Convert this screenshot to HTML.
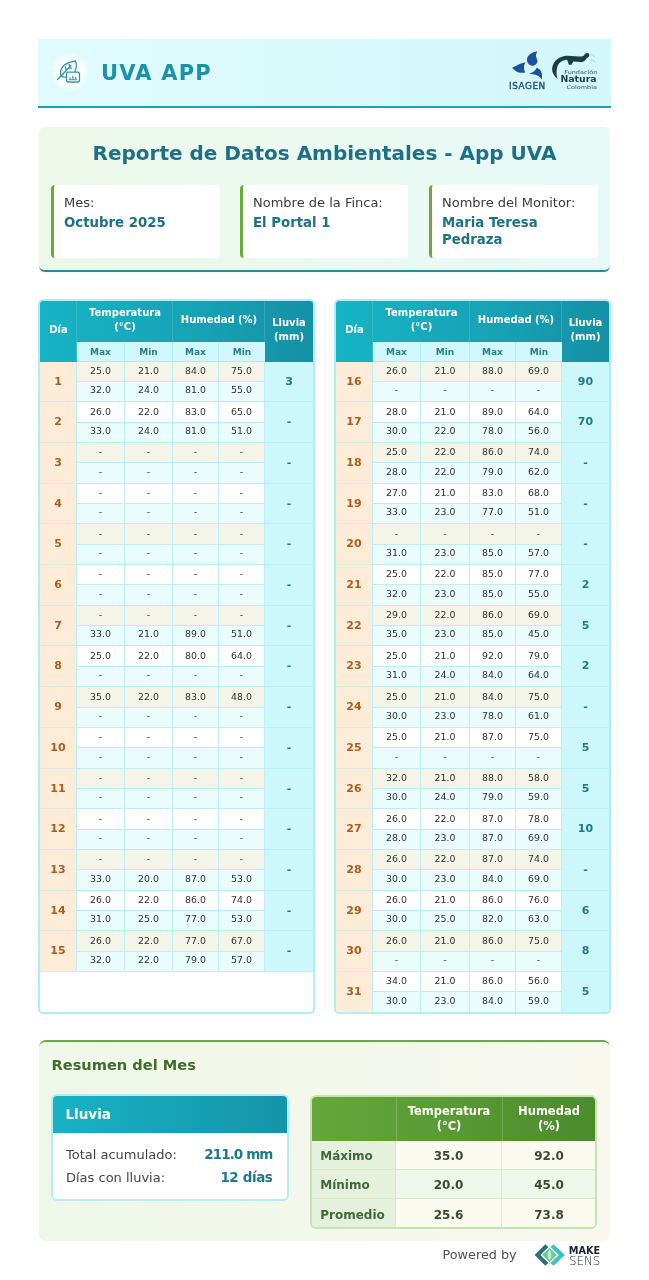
<!DOCTYPE html><html><head><meta charset="utf-8"><title>UVA APP</title><style>
*{margin:0;padding:0;box-sizing:border-box}
html,body{width:649px;height:1280px;background:#fff;overflow:hidden;font-family:'DejaVu Sans', 'Liberation Sans', sans-serif}
.a{position:absolute;display:flex;align-items:center;justify-content:center;text-align:center}
.tbl{position:absolute;border:2px solid #aeeef4;border-radius:5px;overflow:hidden;background:#fff}
.h{color:#fff;font-weight:bold;font-size:10px;line-height:13.8px;position:relative;top:-1.5px}
.sh{color:#2a7e8d;font-weight:bold;font-size:9px;position:relative;top:0.5px}
.n{color:#303030;font-size:9.4px;position:relative;top:-0.9px}
.nb{top:-1.8px}
.d{color:#ad5e1f;font-weight:bold;font-size:11px;position:relative;top:-0.5px}
.l{color:#1e7a8b;font-weight:bold;font-size:11px;position:relative;top:-0.5px}
#hdr{position:absolute;left:38px;top:39px;width:573px;height:69px;background:linear-gradient(90deg,#e0fbfd,#d3f7fa);border-bottom:2px solid #19a2b2}
#info{position:absolute;left:38.5px;top:127px;width:571.5px;height:145px;border-radius:6px;background:linear-gradient(90deg,#eef8ea,#e7faf8);border-bottom:2px solid #2a8a99;box-shadow:0 1px 3px rgba(0,0,0,0.05)}
#info h1{position:absolute;left:0;width:100%;top:140px;text-align:center;font-size:20px;font-weight:bold;color:#1e7b8d;line-height:24px}
.fld{position:absolute;top:185px;height:73px;background:#fff;border-left:3px solid #6aaa3c;border-radius:4px}
.fl{position:absolute;left:10px;top:9px;font-size:13px;color:#3c3c3c;line-height:17px}
.fv{position:absolute;left:10px;top:28.8px;font-size:13.3px;font-weight:bold;color:#1b7386;line-height:17px}
.gh{color:#fff;font-weight:bold;font-size:11.5px;line-height:15px;position:relative;top:0.5px}
.gl{color:#41673a;font-weight:bold;font-size:12px;position:relative;top:1px}
.gv{color:#3a4a30;font-weight:bold;font-size:12px;position:relative;top:1px}
#sum{position:absolute;left:39px;top:1040px;width:571px;height:201px;border-radius:7px;background:linear-gradient(90deg,#eff7ea,#f8f8ef);border-top:2px solid #6aa842}
</style></head><body>
<div id="hdr"></div>
<div style="position:absolute;left:50px;top:52px;width:40px;height:40px;border-radius:50%;background:radial-gradient(circle closest-side,rgba(255,255,255,0.97) 50%,rgba(255,255,255,0.6) 75%,rgba(255,255,255,0) 100%)"></div>
<div style="position:absolute;left:101px;top:60px;font-size:21px;font-weight:bold;letter-spacing:1.2px;color:#1a93a5;line-height:26px">UVA APP</div>
<div id="info"></div>
<div style="position:absolute;left:39px;width:571px;top:141px;text-align:center;font-size:20px;font-weight:bold;color:#1c7188;line-height:24px">Reporte de Datos Ambientales - App UVA</div>
<div class="fld" style="left:51px;width:169px"><div class="fl">Mes:</div><div class="fv">Octubre 2025</div></div>
<div class="fld" style="left:240px;width:168px"><div class="fl">Nombre de la Finca:</div><div class="fv">El Portal 1</div></div>
<div class="fld" style="left:429px;width:169px"><div class="fl">Nombre del Monitor:</div><div class="fv">Maria Teresa<br>Pedraza</div></div>
<div class="tbl" style="left:38px;top:299px;width:277px;height:715px">
<div class="a" style="left:0px;top:0px;width:273px;height:61px;background:linear-gradient(90deg,#17b4c5 0%,#16a3b6 55%,#1590a4 100%);"></div>
<div class="a" style="left:36px;top:0px;width:1px;height:61px;background:rgba(255,255,255,0.13);"></div>
<div class="a" style="left:132px;top:0px;width:1px;height:61px;background:rgba(255,255,255,0.13);"></div>
<div class="a" style="left:224px;top:0px;width:1px;height:61px;background:rgba(255,255,255,0.13);"></div>
<div class="a" style="left:0px;top:0px;width:37px;height:61px;"><span class="h">Día</span></div>
<div class="a" style="left:37px;top:0px;width:96px;height:41px;"><span class="h">Temperatura<br>(°C)</span></div>
<div class="a" style="left:133px;top:0px;width:92px;height:41px;"><span class="h">Humedad (%)</span></div>
<div class="a" style="left:225px;top:0px;width:48px;height:61px;"><span class="h">Lluvia<br>(mm)</span></div>
<div class="a" style="left:37px;top:41px;width:48px;height:20px;background:#cff9fc;border-bottom:1px solid #b2e9ee;border-right:1px solid #b4ecf2;"><span class="sh">Max</span></div>
<div class="a" style="left:85px;top:41px;width:48px;height:20px;background:#cff9fc;border-bottom:1px solid #b2e9ee;border-right:1px solid #b4ecf2;"><span class="sh">Min</span></div>
<div class="a" style="left:133px;top:41px;width:46px;height:20px;background:#cff9fc;border-bottom:1px solid #b2e9ee;border-right:1px solid #b4ecf2;"><span class="sh">Max</span></div>
<div class="a" style="left:179px;top:41px;width:46px;height:20px;background:#cff9fc;border-bottom:1px solid #b2e9ee;"><span class="sh">Min</span></div>
<div class="a" style="left:0px;top:61px;width:37px;height:40px;background:#fdecd7;border-bottom:1px solid #dcebe2;border-right:1px solid #bdeef3;"><span class="d">1</span></div>
<div class="a" style="left:37px;top:61px;width:48px;height:20px;background:#f4f4e8;border-bottom:1px solid #bdeef3;border-right:1px solid #bdeef3;"><span class="n">25.0</span></div>
<div class="a" style="left:37px;top:81px;width:48px;height:20px;background:#eafcfc;border-bottom:1px solid #bdeef3;border-right:1px solid #bdeef3;"><span class="n nb">32.0</span></div>
<div class="a" style="left:85px;top:61px;width:48px;height:20px;background:#f4f4e8;border-bottom:1px solid #bdeef3;border-right:1px solid #bdeef3;"><span class="n">21.0</span></div>
<div class="a" style="left:85px;top:81px;width:48px;height:20px;background:#eafcfc;border-bottom:1px solid #bdeef3;border-right:1px solid #bdeef3;"><span class="n nb">24.0</span></div>
<div class="a" style="left:133px;top:61px;width:46px;height:20px;background:#f4f4e8;border-bottom:1px solid #bdeef3;border-right:1px solid #bdeef3;"><span class="n">84.0</span></div>
<div class="a" style="left:133px;top:81px;width:46px;height:20px;background:#eafcfc;border-bottom:1px solid #bdeef3;border-right:1px solid #bdeef3;"><span class="n nb">81.0</span></div>
<div class="a" style="left:179px;top:61px;width:46px;height:20px;background:#f4f4e8;border-bottom:1px solid #bdeef3;border-right:1px solid #bdeef3;"><span class="n">75.0</span></div>
<div class="a" style="left:179px;top:81px;width:46px;height:20px;background:#eafcfc;border-bottom:1px solid #bdeef3;border-right:1px solid #bdeef3;"><span class="n nb">55.0</span></div>
<div class="a" style="left:225px;top:61px;width:48px;height:40px;background:#cdf8fb;border-bottom:1px solid #bdeef3;"><span class="l">3</span></div>
<div class="a" style="left:0px;top:101px;width:37px;height:41px;background:#fdecd7;border-bottom:1px solid #dcebe2;border-right:1px solid #bdeef3;"><span class="d">2</span></div>
<div class="a" style="left:37px;top:101px;width:48px;height:21px;background:#ffffff;border-bottom:1px solid #bdeef3;border-right:1px solid #bdeef3;"><span class="n">26.0</span></div>
<div class="a" style="left:37px;top:122px;width:48px;height:20px;background:#eafcfc;border-bottom:1px solid #bdeef3;border-right:1px solid #bdeef3;"><span class="n nb">33.0</span></div>
<div class="a" style="left:85px;top:101px;width:48px;height:21px;background:#ffffff;border-bottom:1px solid #bdeef3;border-right:1px solid #bdeef3;"><span class="n">22.0</span></div>
<div class="a" style="left:85px;top:122px;width:48px;height:20px;background:#eafcfc;border-bottom:1px solid #bdeef3;border-right:1px solid #bdeef3;"><span class="n nb">24.0</span></div>
<div class="a" style="left:133px;top:101px;width:46px;height:21px;background:#ffffff;border-bottom:1px solid #bdeef3;border-right:1px solid #bdeef3;"><span class="n">83.0</span></div>
<div class="a" style="left:133px;top:122px;width:46px;height:20px;background:#eafcfc;border-bottom:1px solid #bdeef3;border-right:1px solid #bdeef3;"><span class="n nb">81.0</span></div>
<div class="a" style="left:179px;top:101px;width:46px;height:21px;background:#ffffff;border-bottom:1px solid #bdeef3;border-right:1px solid #bdeef3;"><span class="n">65.0</span></div>
<div class="a" style="left:179px;top:122px;width:46px;height:20px;background:#eafcfc;border-bottom:1px solid #bdeef3;border-right:1px solid #bdeef3;"><span class="n nb">51.0</span></div>
<div class="a" style="left:225px;top:101px;width:48px;height:41px;background:#cdf8fb;border-bottom:1px solid #bdeef3;"><span class="l">-</span></div>
<div class="a" style="left:0px;top:142px;width:37px;height:41px;background:#fdecd7;border-bottom:1px solid #dcebe2;border-right:1px solid #bdeef3;"><span class="d">3</span></div>
<div class="a" style="left:37px;top:142px;width:48px;height:20px;background:#f4f4e8;border-bottom:1px solid #bdeef3;border-right:1px solid #bdeef3;"><span class="n">-</span></div>
<div class="a" style="left:37px;top:162px;width:48px;height:21px;background:#eafcfc;border-bottom:1px solid #bdeef3;border-right:1px solid #bdeef3;"><span class="n nb">-</span></div>
<div class="a" style="left:85px;top:142px;width:48px;height:20px;background:#f4f4e8;border-bottom:1px solid #bdeef3;border-right:1px solid #bdeef3;"><span class="n">-</span></div>
<div class="a" style="left:85px;top:162px;width:48px;height:21px;background:#eafcfc;border-bottom:1px solid #bdeef3;border-right:1px solid #bdeef3;"><span class="n nb">-</span></div>
<div class="a" style="left:133px;top:142px;width:46px;height:20px;background:#f4f4e8;border-bottom:1px solid #bdeef3;border-right:1px solid #bdeef3;"><span class="n">-</span></div>
<div class="a" style="left:133px;top:162px;width:46px;height:21px;background:#eafcfc;border-bottom:1px solid #bdeef3;border-right:1px solid #bdeef3;"><span class="n nb">-</span></div>
<div class="a" style="left:179px;top:142px;width:46px;height:20px;background:#f4f4e8;border-bottom:1px solid #bdeef3;border-right:1px solid #bdeef3;"><span class="n">-</span></div>
<div class="a" style="left:179px;top:162px;width:46px;height:21px;background:#eafcfc;border-bottom:1px solid #bdeef3;border-right:1px solid #bdeef3;"><span class="n nb">-</span></div>
<div class="a" style="left:225px;top:142px;width:48px;height:41px;background:#cdf8fb;border-bottom:1px solid #bdeef3;"><span class="l">-</span></div>
<div class="a" style="left:0px;top:183px;width:37px;height:40px;background:#fdecd7;border-bottom:1px solid #dcebe2;border-right:1px solid #bdeef3;"><span class="d">4</span></div>
<div class="a" style="left:37px;top:183px;width:48px;height:20px;background:#ffffff;border-bottom:1px solid #bdeef3;border-right:1px solid #bdeef3;"><span class="n">-</span></div>
<div class="a" style="left:37px;top:203px;width:48px;height:20px;background:#eafcfc;border-bottom:1px solid #bdeef3;border-right:1px solid #bdeef3;"><span class="n nb">-</span></div>
<div class="a" style="left:85px;top:183px;width:48px;height:20px;background:#ffffff;border-bottom:1px solid #bdeef3;border-right:1px solid #bdeef3;"><span class="n">-</span></div>
<div class="a" style="left:85px;top:203px;width:48px;height:20px;background:#eafcfc;border-bottom:1px solid #bdeef3;border-right:1px solid #bdeef3;"><span class="n nb">-</span></div>
<div class="a" style="left:133px;top:183px;width:46px;height:20px;background:#ffffff;border-bottom:1px solid #bdeef3;border-right:1px solid #bdeef3;"><span class="n">-</span></div>
<div class="a" style="left:133px;top:203px;width:46px;height:20px;background:#eafcfc;border-bottom:1px solid #bdeef3;border-right:1px solid #bdeef3;"><span class="n nb">-</span></div>
<div class="a" style="left:179px;top:183px;width:46px;height:20px;background:#ffffff;border-bottom:1px solid #bdeef3;border-right:1px solid #bdeef3;"><span class="n">-</span></div>
<div class="a" style="left:179px;top:203px;width:46px;height:20px;background:#eafcfc;border-bottom:1px solid #bdeef3;border-right:1px solid #bdeef3;"><span class="n nb">-</span></div>
<div class="a" style="left:225px;top:183px;width:48px;height:40px;background:#cdf8fb;border-bottom:1px solid #bdeef3;"><span class="l">-</span></div>
<div class="a" style="left:0px;top:223px;width:37px;height:41px;background:#fdecd7;border-bottom:1px solid #dcebe2;border-right:1px solid #bdeef3;"><span class="d">5</span></div>
<div class="a" style="left:37px;top:223px;width:48px;height:21px;background:#f4f4e8;border-bottom:1px solid #bdeef3;border-right:1px solid #bdeef3;"><span class="n">-</span></div>
<div class="a" style="left:37px;top:244px;width:48px;height:20px;background:#eafcfc;border-bottom:1px solid #bdeef3;border-right:1px solid #bdeef3;"><span class="n nb">-</span></div>
<div class="a" style="left:85px;top:223px;width:48px;height:21px;background:#f4f4e8;border-bottom:1px solid #bdeef3;border-right:1px solid #bdeef3;"><span class="n">-</span></div>
<div class="a" style="left:85px;top:244px;width:48px;height:20px;background:#eafcfc;border-bottom:1px solid #bdeef3;border-right:1px solid #bdeef3;"><span class="n nb">-</span></div>
<div class="a" style="left:133px;top:223px;width:46px;height:21px;background:#f4f4e8;border-bottom:1px solid #bdeef3;border-right:1px solid #bdeef3;"><span class="n">-</span></div>
<div class="a" style="left:133px;top:244px;width:46px;height:20px;background:#eafcfc;border-bottom:1px solid #bdeef3;border-right:1px solid #bdeef3;"><span class="n nb">-</span></div>
<div class="a" style="left:179px;top:223px;width:46px;height:21px;background:#f4f4e8;border-bottom:1px solid #bdeef3;border-right:1px solid #bdeef3;"><span class="n">-</span></div>
<div class="a" style="left:179px;top:244px;width:46px;height:20px;background:#eafcfc;border-bottom:1px solid #bdeef3;border-right:1px solid #bdeef3;"><span class="n nb">-</span></div>
<div class="a" style="left:225px;top:223px;width:48px;height:41px;background:#cdf8fb;border-bottom:1px solid #bdeef3;"><span class="l">-</span></div>
<div class="a" style="left:0px;top:264px;width:37px;height:41px;background:#fdecd7;border-bottom:1px solid #dcebe2;border-right:1px solid #bdeef3;"><span class="d">6</span></div>
<div class="a" style="left:37px;top:264px;width:48px;height:20px;background:#ffffff;border-bottom:1px solid #bdeef3;border-right:1px solid #bdeef3;"><span class="n">-</span></div>
<div class="a" style="left:37px;top:284px;width:48px;height:21px;background:#eafcfc;border-bottom:1px solid #bdeef3;border-right:1px solid #bdeef3;"><span class="n nb">-</span></div>
<div class="a" style="left:85px;top:264px;width:48px;height:20px;background:#ffffff;border-bottom:1px solid #bdeef3;border-right:1px solid #bdeef3;"><span class="n">-</span></div>
<div class="a" style="left:85px;top:284px;width:48px;height:21px;background:#eafcfc;border-bottom:1px solid #bdeef3;border-right:1px solid #bdeef3;"><span class="n nb">-</span></div>
<div class="a" style="left:133px;top:264px;width:46px;height:20px;background:#ffffff;border-bottom:1px solid #bdeef3;border-right:1px solid #bdeef3;"><span class="n">-</span></div>
<div class="a" style="left:133px;top:284px;width:46px;height:21px;background:#eafcfc;border-bottom:1px solid #bdeef3;border-right:1px solid #bdeef3;"><span class="n nb">-</span></div>
<div class="a" style="left:179px;top:264px;width:46px;height:20px;background:#ffffff;border-bottom:1px solid #bdeef3;border-right:1px solid #bdeef3;"><span class="n">-</span></div>
<div class="a" style="left:179px;top:284px;width:46px;height:21px;background:#eafcfc;border-bottom:1px solid #bdeef3;border-right:1px solid #bdeef3;"><span class="n nb">-</span></div>
<div class="a" style="left:225px;top:264px;width:48px;height:41px;background:#cdf8fb;border-bottom:1px solid #bdeef3;"><span class="l">-</span></div>
<div class="a" style="left:0px;top:305px;width:37px;height:40px;background:#fdecd7;border-bottom:1px solid #dcebe2;border-right:1px solid #bdeef3;"><span class="d">7</span></div>
<div class="a" style="left:37px;top:305px;width:48px;height:20px;background:#f4f4e8;border-bottom:1px solid #bdeef3;border-right:1px solid #bdeef3;"><span class="n">-</span></div>
<div class="a" style="left:37px;top:325px;width:48px;height:20px;background:#eafcfc;border-bottom:1px solid #bdeef3;border-right:1px solid #bdeef3;"><span class="n nb">33.0</span></div>
<div class="a" style="left:85px;top:305px;width:48px;height:20px;background:#f4f4e8;border-bottom:1px solid #bdeef3;border-right:1px solid #bdeef3;"><span class="n">-</span></div>
<div class="a" style="left:85px;top:325px;width:48px;height:20px;background:#eafcfc;border-bottom:1px solid #bdeef3;border-right:1px solid #bdeef3;"><span class="n nb">21.0</span></div>
<div class="a" style="left:133px;top:305px;width:46px;height:20px;background:#f4f4e8;border-bottom:1px solid #bdeef3;border-right:1px solid #bdeef3;"><span class="n">-</span></div>
<div class="a" style="left:133px;top:325px;width:46px;height:20px;background:#eafcfc;border-bottom:1px solid #bdeef3;border-right:1px solid #bdeef3;"><span class="n nb">89.0</span></div>
<div class="a" style="left:179px;top:305px;width:46px;height:20px;background:#f4f4e8;border-bottom:1px solid #bdeef3;border-right:1px solid #bdeef3;"><span class="n">-</span></div>
<div class="a" style="left:179px;top:325px;width:46px;height:20px;background:#eafcfc;border-bottom:1px solid #bdeef3;border-right:1px solid #bdeef3;"><span class="n nb">51.0</span></div>
<div class="a" style="left:225px;top:305px;width:48px;height:40px;background:#cdf8fb;border-bottom:1px solid #bdeef3;"><span class="l">-</span></div>
<div class="a" style="left:0px;top:345px;width:37px;height:41px;background:#fdecd7;border-bottom:1px solid #dcebe2;border-right:1px solid #bdeef3;"><span class="d">8</span></div>
<div class="a" style="left:37px;top:345px;width:48px;height:21px;background:#ffffff;border-bottom:1px solid #bdeef3;border-right:1px solid #bdeef3;"><span class="n">25.0</span></div>
<div class="a" style="left:37px;top:366px;width:48px;height:20px;background:#eafcfc;border-bottom:1px solid #bdeef3;border-right:1px solid #bdeef3;"><span class="n nb">-</span></div>
<div class="a" style="left:85px;top:345px;width:48px;height:21px;background:#ffffff;border-bottom:1px solid #bdeef3;border-right:1px solid #bdeef3;"><span class="n">22.0</span></div>
<div class="a" style="left:85px;top:366px;width:48px;height:20px;background:#eafcfc;border-bottom:1px solid #bdeef3;border-right:1px solid #bdeef3;"><span class="n nb">-</span></div>
<div class="a" style="left:133px;top:345px;width:46px;height:21px;background:#ffffff;border-bottom:1px solid #bdeef3;border-right:1px solid #bdeef3;"><span class="n">80.0</span></div>
<div class="a" style="left:133px;top:366px;width:46px;height:20px;background:#eafcfc;border-bottom:1px solid #bdeef3;border-right:1px solid #bdeef3;"><span class="n nb">-</span></div>
<div class="a" style="left:179px;top:345px;width:46px;height:21px;background:#ffffff;border-bottom:1px solid #bdeef3;border-right:1px solid #bdeef3;"><span class="n">64.0</span></div>
<div class="a" style="left:179px;top:366px;width:46px;height:20px;background:#eafcfc;border-bottom:1px solid #bdeef3;border-right:1px solid #bdeef3;"><span class="n nb">-</span></div>
<div class="a" style="left:225px;top:345px;width:48px;height:41px;background:#cdf8fb;border-bottom:1px solid #bdeef3;"><span class="l">-</span></div>
<div class="a" style="left:0px;top:386px;width:37px;height:41px;background:#fdecd7;border-bottom:1px solid #dcebe2;border-right:1px solid #bdeef3;"><span class="d">9</span></div>
<div class="a" style="left:37px;top:386px;width:48px;height:21px;background:#f4f4e8;border-bottom:1px solid #bdeef3;border-right:1px solid #bdeef3;"><span class="n">35.0</span></div>
<div class="a" style="left:37px;top:407px;width:48px;height:20px;background:#eafcfc;border-bottom:1px solid #bdeef3;border-right:1px solid #bdeef3;"><span class="n nb">-</span></div>
<div class="a" style="left:85px;top:386px;width:48px;height:21px;background:#f4f4e8;border-bottom:1px solid #bdeef3;border-right:1px solid #bdeef3;"><span class="n">22.0</span></div>
<div class="a" style="left:85px;top:407px;width:48px;height:20px;background:#eafcfc;border-bottom:1px solid #bdeef3;border-right:1px solid #bdeef3;"><span class="n nb">-</span></div>
<div class="a" style="left:133px;top:386px;width:46px;height:21px;background:#f4f4e8;border-bottom:1px solid #bdeef3;border-right:1px solid #bdeef3;"><span class="n">83.0</span></div>
<div class="a" style="left:133px;top:407px;width:46px;height:20px;background:#eafcfc;border-bottom:1px solid #bdeef3;border-right:1px solid #bdeef3;"><span class="n nb">-</span></div>
<div class="a" style="left:179px;top:386px;width:46px;height:21px;background:#f4f4e8;border-bottom:1px solid #bdeef3;border-right:1px solid #bdeef3;"><span class="n">48.0</span></div>
<div class="a" style="left:179px;top:407px;width:46px;height:20px;background:#eafcfc;border-bottom:1px solid #bdeef3;border-right:1px solid #bdeef3;"><span class="n nb">-</span></div>
<div class="a" style="left:225px;top:386px;width:48px;height:41px;background:#cdf8fb;border-bottom:1px solid #bdeef3;"><span class="l">-</span></div>
<div class="a" style="left:0px;top:427px;width:37px;height:41px;background:#fdecd7;border-bottom:1px solid #dcebe2;border-right:1px solid #bdeef3;"><span class="d">10</span></div>
<div class="a" style="left:37px;top:427px;width:48px;height:20px;background:#ffffff;border-bottom:1px solid #bdeef3;border-right:1px solid #bdeef3;"><span class="n">-</span></div>
<div class="a" style="left:37px;top:447px;width:48px;height:21px;background:#eafcfc;border-bottom:1px solid #bdeef3;border-right:1px solid #bdeef3;"><span class="n nb">-</span></div>
<div class="a" style="left:85px;top:427px;width:48px;height:20px;background:#ffffff;border-bottom:1px solid #bdeef3;border-right:1px solid #bdeef3;"><span class="n">-</span></div>
<div class="a" style="left:85px;top:447px;width:48px;height:21px;background:#eafcfc;border-bottom:1px solid #bdeef3;border-right:1px solid #bdeef3;"><span class="n nb">-</span></div>
<div class="a" style="left:133px;top:427px;width:46px;height:20px;background:#ffffff;border-bottom:1px solid #bdeef3;border-right:1px solid #bdeef3;"><span class="n">-</span></div>
<div class="a" style="left:133px;top:447px;width:46px;height:21px;background:#eafcfc;border-bottom:1px solid #bdeef3;border-right:1px solid #bdeef3;"><span class="n nb">-</span></div>
<div class="a" style="left:179px;top:427px;width:46px;height:20px;background:#ffffff;border-bottom:1px solid #bdeef3;border-right:1px solid #bdeef3;"><span class="n">-</span></div>
<div class="a" style="left:179px;top:447px;width:46px;height:21px;background:#eafcfc;border-bottom:1px solid #bdeef3;border-right:1px solid #bdeef3;"><span class="n nb">-</span></div>
<div class="a" style="left:225px;top:427px;width:48px;height:41px;background:#cdf8fb;border-bottom:1px solid #bdeef3;"><span class="l">-</span></div>
<div class="a" style="left:0px;top:468px;width:37px;height:40px;background:#fdecd7;border-bottom:1px solid #dcebe2;border-right:1px solid #bdeef3;"><span class="d">11</span></div>
<div class="a" style="left:37px;top:468px;width:48px;height:20px;background:#f4f4e8;border-bottom:1px solid #bdeef3;border-right:1px solid #bdeef3;"><span class="n">-</span></div>
<div class="a" style="left:37px;top:488px;width:48px;height:20px;background:#eafcfc;border-bottom:1px solid #bdeef3;border-right:1px solid #bdeef3;"><span class="n nb">-</span></div>
<div class="a" style="left:85px;top:468px;width:48px;height:20px;background:#f4f4e8;border-bottom:1px solid #bdeef3;border-right:1px solid #bdeef3;"><span class="n">-</span></div>
<div class="a" style="left:85px;top:488px;width:48px;height:20px;background:#eafcfc;border-bottom:1px solid #bdeef3;border-right:1px solid #bdeef3;"><span class="n nb">-</span></div>
<div class="a" style="left:133px;top:468px;width:46px;height:20px;background:#f4f4e8;border-bottom:1px solid #bdeef3;border-right:1px solid #bdeef3;"><span class="n">-</span></div>
<div class="a" style="left:133px;top:488px;width:46px;height:20px;background:#eafcfc;border-bottom:1px solid #bdeef3;border-right:1px solid #bdeef3;"><span class="n nb">-</span></div>
<div class="a" style="left:179px;top:468px;width:46px;height:20px;background:#f4f4e8;border-bottom:1px solid #bdeef3;border-right:1px solid #bdeef3;"><span class="n">-</span></div>
<div class="a" style="left:179px;top:488px;width:46px;height:20px;background:#eafcfc;border-bottom:1px solid #bdeef3;border-right:1px solid #bdeef3;"><span class="n nb">-</span></div>
<div class="a" style="left:225px;top:468px;width:48px;height:40px;background:#cdf8fb;border-bottom:1px solid #bdeef3;"><span class="l">-</span></div>
<div class="a" style="left:0px;top:508px;width:37px;height:41px;background:#fdecd7;border-bottom:1px solid #dcebe2;border-right:1px solid #bdeef3;"><span class="d">12</span></div>
<div class="a" style="left:37px;top:508px;width:48px;height:21px;background:#ffffff;border-bottom:1px solid #bdeef3;border-right:1px solid #bdeef3;"><span class="n">-</span></div>
<div class="a" style="left:37px;top:529px;width:48px;height:20px;background:#eafcfc;border-bottom:1px solid #bdeef3;border-right:1px solid #bdeef3;"><span class="n nb">-</span></div>
<div class="a" style="left:85px;top:508px;width:48px;height:21px;background:#ffffff;border-bottom:1px solid #bdeef3;border-right:1px solid #bdeef3;"><span class="n">-</span></div>
<div class="a" style="left:85px;top:529px;width:48px;height:20px;background:#eafcfc;border-bottom:1px solid #bdeef3;border-right:1px solid #bdeef3;"><span class="n nb">-</span></div>
<div class="a" style="left:133px;top:508px;width:46px;height:21px;background:#ffffff;border-bottom:1px solid #bdeef3;border-right:1px solid #bdeef3;"><span class="n">-</span></div>
<div class="a" style="left:133px;top:529px;width:46px;height:20px;background:#eafcfc;border-bottom:1px solid #bdeef3;border-right:1px solid #bdeef3;"><span class="n nb">-</span></div>
<div class="a" style="left:179px;top:508px;width:46px;height:21px;background:#ffffff;border-bottom:1px solid #bdeef3;border-right:1px solid #bdeef3;"><span class="n">-</span></div>
<div class="a" style="left:179px;top:529px;width:46px;height:20px;background:#eafcfc;border-bottom:1px solid #bdeef3;border-right:1px solid #bdeef3;"><span class="n nb">-</span></div>
<div class="a" style="left:225px;top:508px;width:48px;height:41px;background:#cdf8fb;border-bottom:1px solid #bdeef3;"><span class="l">-</span></div>
<div class="a" style="left:0px;top:549px;width:37px;height:41px;background:#fdecd7;border-bottom:1px solid #dcebe2;border-right:1px solid #bdeef3;"><span class="d">13</span></div>
<div class="a" style="left:37px;top:549px;width:48px;height:20px;background:#f4f4e8;border-bottom:1px solid #bdeef3;border-right:1px solid #bdeef3;"><span class="n">-</span></div>
<div class="a" style="left:37px;top:569px;width:48px;height:21px;background:#eafcfc;border-bottom:1px solid #bdeef3;border-right:1px solid #bdeef3;"><span class="n nb">33.0</span></div>
<div class="a" style="left:85px;top:549px;width:48px;height:20px;background:#f4f4e8;border-bottom:1px solid #bdeef3;border-right:1px solid #bdeef3;"><span class="n">-</span></div>
<div class="a" style="left:85px;top:569px;width:48px;height:21px;background:#eafcfc;border-bottom:1px solid #bdeef3;border-right:1px solid #bdeef3;"><span class="n nb">20.0</span></div>
<div class="a" style="left:133px;top:549px;width:46px;height:20px;background:#f4f4e8;border-bottom:1px solid #bdeef3;border-right:1px solid #bdeef3;"><span class="n">-</span></div>
<div class="a" style="left:133px;top:569px;width:46px;height:21px;background:#eafcfc;border-bottom:1px solid #bdeef3;border-right:1px solid #bdeef3;"><span class="n nb">87.0</span></div>
<div class="a" style="left:179px;top:549px;width:46px;height:20px;background:#f4f4e8;border-bottom:1px solid #bdeef3;border-right:1px solid #bdeef3;"><span class="n">-</span></div>
<div class="a" style="left:179px;top:569px;width:46px;height:21px;background:#eafcfc;border-bottom:1px solid #bdeef3;border-right:1px solid #bdeef3;"><span class="n nb">53.0</span></div>
<div class="a" style="left:225px;top:549px;width:48px;height:41px;background:#cdf8fb;border-bottom:1px solid #bdeef3;"><span class="l">-</span></div>
<div class="a" style="left:0px;top:590px;width:37px;height:40px;background:#fdecd7;border-bottom:1px solid #dcebe2;border-right:1px solid #bdeef3;"><span class="d">14</span></div>
<div class="a" style="left:37px;top:590px;width:48px;height:20px;background:#ffffff;border-bottom:1px solid #bdeef3;border-right:1px solid #bdeef3;"><span class="n">26.0</span></div>
<div class="a" style="left:37px;top:610px;width:48px;height:20px;background:#eafcfc;border-bottom:1px solid #bdeef3;border-right:1px solid #bdeef3;"><span class="n nb">31.0</span></div>
<div class="a" style="left:85px;top:590px;width:48px;height:20px;background:#ffffff;border-bottom:1px solid #bdeef3;border-right:1px solid #bdeef3;"><span class="n">22.0</span></div>
<div class="a" style="left:85px;top:610px;width:48px;height:20px;background:#eafcfc;border-bottom:1px solid #bdeef3;border-right:1px solid #bdeef3;"><span class="n nb">25.0</span></div>
<div class="a" style="left:133px;top:590px;width:46px;height:20px;background:#ffffff;border-bottom:1px solid #bdeef3;border-right:1px solid #bdeef3;"><span class="n">86.0</span></div>
<div class="a" style="left:133px;top:610px;width:46px;height:20px;background:#eafcfc;border-bottom:1px solid #bdeef3;border-right:1px solid #bdeef3;"><span class="n nb">77.0</span></div>
<div class="a" style="left:179px;top:590px;width:46px;height:20px;background:#ffffff;border-bottom:1px solid #bdeef3;border-right:1px solid #bdeef3;"><span class="n">74.0</span></div>
<div class="a" style="left:179px;top:610px;width:46px;height:20px;background:#eafcfc;border-bottom:1px solid #bdeef3;border-right:1px solid #bdeef3;"><span class="n nb">53.0</span></div>
<div class="a" style="left:225px;top:590px;width:48px;height:40px;background:#cdf8fb;border-bottom:1px solid #bdeef3;"><span class="l">-</span></div>
<div class="a" style="left:0px;top:630px;width:37px;height:41px;background:#fdecd7;border-bottom:1px solid #dcebe2;border-right:1px solid #bdeef3;"><span class="d">15</span></div>
<div class="a" style="left:37px;top:630px;width:48px;height:21px;background:#f4f4e8;border-bottom:1px solid #bdeef3;border-right:1px solid #bdeef3;"><span class="n">26.0</span></div>
<div class="a" style="left:37px;top:651px;width:48px;height:20px;background:#eafcfc;border-bottom:1px solid #bdeef3;border-right:1px solid #bdeef3;"><span class="n nb">32.0</span></div>
<div class="a" style="left:85px;top:630px;width:48px;height:21px;background:#f4f4e8;border-bottom:1px solid #bdeef3;border-right:1px solid #bdeef3;"><span class="n">22.0</span></div>
<div class="a" style="left:85px;top:651px;width:48px;height:20px;background:#eafcfc;border-bottom:1px solid #bdeef3;border-right:1px solid #bdeef3;"><span class="n nb">22.0</span></div>
<div class="a" style="left:133px;top:630px;width:46px;height:21px;background:#f4f4e8;border-bottom:1px solid #bdeef3;border-right:1px solid #bdeef3;"><span class="n">77.0</span></div>
<div class="a" style="left:133px;top:651px;width:46px;height:20px;background:#eafcfc;border-bottom:1px solid #bdeef3;border-right:1px solid #bdeef3;"><span class="n nb">79.0</span></div>
<div class="a" style="left:179px;top:630px;width:46px;height:21px;background:#f4f4e8;border-bottom:1px solid #bdeef3;border-right:1px solid #bdeef3;"><span class="n">67.0</span></div>
<div class="a" style="left:179px;top:651px;width:46px;height:20px;background:#eafcfc;border-bottom:1px solid #bdeef3;border-right:1px solid #bdeef3;"><span class="n nb">57.0</span></div>
<div class="a" style="left:225px;top:630px;width:48px;height:41px;background:#cdf8fb;border-bottom:1px solid #bdeef3;"><span class="l">-</span></div>
</div>
<div class="tbl" style="left:334px;top:299px;width:277px;height:715px">
<div class="a" style="left:0px;top:0px;width:273px;height:61px;background:linear-gradient(90deg,#17b4c5 0%,#16a3b6 55%,#1590a4 100%);"></div>
<div class="a" style="left:36px;top:0px;width:1px;height:61px;background:rgba(255,255,255,0.13);"></div>
<div class="a" style="left:133px;top:0px;width:1px;height:61px;background:rgba(255,255,255,0.13);"></div>
<div class="a" style="left:225px;top:0px;width:1px;height:61px;background:rgba(255,255,255,0.13);"></div>
<div class="a" style="left:0px;top:0px;width:37px;height:61px;"><span class="h">Día</span></div>
<div class="a" style="left:37px;top:0px;width:97px;height:41px;"><span class="h">Temperatura<br>(°C)</span></div>
<div class="a" style="left:134px;top:0px;width:92px;height:41px;"><span class="h">Humedad (%)</span></div>
<div class="a" style="left:226px;top:0px;width:47px;height:61px;"><span class="h">Lluvia<br>(mm)</span></div>
<div class="a" style="left:37px;top:41px;width:48px;height:20px;background:#cff9fc;border-bottom:1px solid #b2e9ee;border-right:1px solid #b4ecf2;"><span class="sh">Max</span></div>
<div class="a" style="left:85px;top:41px;width:49px;height:20px;background:#cff9fc;border-bottom:1px solid #b2e9ee;border-right:1px solid #b4ecf2;"><span class="sh">Min</span></div>
<div class="a" style="left:134px;top:41px;width:46px;height:20px;background:#cff9fc;border-bottom:1px solid #b2e9ee;border-right:1px solid #b4ecf2;"><span class="sh">Max</span></div>
<div class="a" style="left:180px;top:41px;width:46px;height:20px;background:#cff9fc;border-bottom:1px solid #b2e9ee;"><span class="sh">Min</span></div>
<div class="a" style="left:0px;top:61px;width:37px;height:40px;background:#fdecd7;border-bottom:1px solid #dcebe2;border-right:1px solid #bdeef3;"><span class="d">16</span></div>
<div class="a" style="left:37px;top:61px;width:48px;height:20px;background:#f4f4e8;border-bottom:1px solid #bdeef3;border-right:1px solid #bdeef3;"><span class="n">26.0</span></div>
<div class="a" style="left:37px;top:81px;width:48px;height:20px;background:#eafcfc;border-bottom:1px solid #bdeef3;border-right:1px solid #bdeef3;"><span class="n nb">-</span></div>
<div class="a" style="left:85px;top:61px;width:49px;height:20px;background:#f4f4e8;border-bottom:1px solid #bdeef3;border-right:1px solid #bdeef3;"><span class="n">21.0</span></div>
<div class="a" style="left:85px;top:81px;width:49px;height:20px;background:#eafcfc;border-bottom:1px solid #bdeef3;border-right:1px solid #bdeef3;"><span class="n nb">-</span></div>
<div class="a" style="left:134px;top:61px;width:46px;height:20px;background:#f4f4e8;border-bottom:1px solid #bdeef3;border-right:1px solid #bdeef3;"><span class="n">88.0</span></div>
<div class="a" style="left:134px;top:81px;width:46px;height:20px;background:#eafcfc;border-bottom:1px solid #bdeef3;border-right:1px solid #bdeef3;"><span class="n nb">-</span></div>
<div class="a" style="left:180px;top:61px;width:46px;height:20px;background:#f4f4e8;border-bottom:1px solid #bdeef3;border-right:1px solid #bdeef3;"><span class="n">69.0</span></div>
<div class="a" style="left:180px;top:81px;width:46px;height:20px;background:#eafcfc;border-bottom:1px solid #bdeef3;border-right:1px solid #bdeef3;"><span class="n nb">-</span></div>
<div class="a" style="left:226px;top:61px;width:47px;height:40px;background:#cdf8fb;border-bottom:1px solid #bdeef3;"><span class="l">90</span></div>
<div class="a" style="left:0px;top:101px;width:37px;height:41px;background:#fdecd7;border-bottom:1px solid #dcebe2;border-right:1px solid #bdeef3;"><span class="d">17</span></div>
<div class="a" style="left:37px;top:101px;width:48px;height:21px;background:#ffffff;border-bottom:1px solid #bdeef3;border-right:1px solid #bdeef3;"><span class="n">28.0</span></div>
<div class="a" style="left:37px;top:122px;width:48px;height:20px;background:#eafcfc;border-bottom:1px solid #bdeef3;border-right:1px solid #bdeef3;"><span class="n nb">30.0</span></div>
<div class="a" style="left:85px;top:101px;width:49px;height:21px;background:#ffffff;border-bottom:1px solid #bdeef3;border-right:1px solid #bdeef3;"><span class="n">21.0</span></div>
<div class="a" style="left:85px;top:122px;width:49px;height:20px;background:#eafcfc;border-bottom:1px solid #bdeef3;border-right:1px solid #bdeef3;"><span class="n nb">22.0</span></div>
<div class="a" style="left:134px;top:101px;width:46px;height:21px;background:#ffffff;border-bottom:1px solid #bdeef3;border-right:1px solid #bdeef3;"><span class="n">89.0</span></div>
<div class="a" style="left:134px;top:122px;width:46px;height:20px;background:#eafcfc;border-bottom:1px solid #bdeef3;border-right:1px solid #bdeef3;"><span class="n nb">78.0</span></div>
<div class="a" style="left:180px;top:101px;width:46px;height:21px;background:#ffffff;border-bottom:1px solid #bdeef3;border-right:1px solid #bdeef3;"><span class="n">64.0</span></div>
<div class="a" style="left:180px;top:122px;width:46px;height:20px;background:#eafcfc;border-bottom:1px solid #bdeef3;border-right:1px solid #bdeef3;"><span class="n nb">56.0</span></div>
<div class="a" style="left:226px;top:101px;width:47px;height:41px;background:#cdf8fb;border-bottom:1px solid #bdeef3;"><span class="l">70</span></div>
<div class="a" style="left:0px;top:142px;width:37px;height:41px;background:#fdecd7;border-bottom:1px solid #dcebe2;border-right:1px solid #bdeef3;"><span class="d">18</span></div>
<div class="a" style="left:37px;top:142px;width:48px;height:20px;background:#f4f4e8;border-bottom:1px solid #bdeef3;border-right:1px solid #bdeef3;"><span class="n">25.0</span></div>
<div class="a" style="left:37px;top:162px;width:48px;height:21px;background:#eafcfc;border-bottom:1px solid #bdeef3;border-right:1px solid #bdeef3;"><span class="n nb">28.0</span></div>
<div class="a" style="left:85px;top:142px;width:49px;height:20px;background:#f4f4e8;border-bottom:1px solid #bdeef3;border-right:1px solid #bdeef3;"><span class="n">22.0</span></div>
<div class="a" style="left:85px;top:162px;width:49px;height:21px;background:#eafcfc;border-bottom:1px solid #bdeef3;border-right:1px solid #bdeef3;"><span class="n nb">22.0</span></div>
<div class="a" style="left:134px;top:142px;width:46px;height:20px;background:#f4f4e8;border-bottom:1px solid #bdeef3;border-right:1px solid #bdeef3;"><span class="n">86.0</span></div>
<div class="a" style="left:134px;top:162px;width:46px;height:21px;background:#eafcfc;border-bottom:1px solid #bdeef3;border-right:1px solid #bdeef3;"><span class="n nb">79.0</span></div>
<div class="a" style="left:180px;top:142px;width:46px;height:20px;background:#f4f4e8;border-bottom:1px solid #bdeef3;border-right:1px solid #bdeef3;"><span class="n">74.0</span></div>
<div class="a" style="left:180px;top:162px;width:46px;height:21px;background:#eafcfc;border-bottom:1px solid #bdeef3;border-right:1px solid #bdeef3;"><span class="n nb">62.0</span></div>
<div class="a" style="left:226px;top:142px;width:47px;height:41px;background:#cdf8fb;border-bottom:1px solid #bdeef3;"><span class="l">-</span></div>
<div class="a" style="left:0px;top:183px;width:37px;height:40px;background:#fdecd7;border-bottom:1px solid #dcebe2;border-right:1px solid #bdeef3;"><span class="d">19</span></div>
<div class="a" style="left:37px;top:183px;width:48px;height:20px;background:#ffffff;border-bottom:1px solid #bdeef3;border-right:1px solid #bdeef3;"><span class="n">27.0</span></div>
<div class="a" style="left:37px;top:203px;width:48px;height:20px;background:#eafcfc;border-bottom:1px solid #bdeef3;border-right:1px solid #bdeef3;"><span class="n nb">33.0</span></div>
<div class="a" style="left:85px;top:183px;width:49px;height:20px;background:#ffffff;border-bottom:1px solid #bdeef3;border-right:1px solid #bdeef3;"><span class="n">21.0</span></div>
<div class="a" style="left:85px;top:203px;width:49px;height:20px;background:#eafcfc;border-bottom:1px solid #bdeef3;border-right:1px solid #bdeef3;"><span class="n nb">23.0</span></div>
<div class="a" style="left:134px;top:183px;width:46px;height:20px;background:#ffffff;border-bottom:1px solid #bdeef3;border-right:1px solid #bdeef3;"><span class="n">83.0</span></div>
<div class="a" style="left:134px;top:203px;width:46px;height:20px;background:#eafcfc;border-bottom:1px solid #bdeef3;border-right:1px solid #bdeef3;"><span class="n nb">77.0</span></div>
<div class="a" style="left:180px;top:183px;width:46px;height:20px;background:#ffffff;border-bottom:1px solid #bdeef3;border-right:1px solid #bdeef3;"><span class="n">68.0</span></div>
<div class="a" style="left:180px;top:203px;width:46px;height:20px;background:#eafcfc;border-bottom:1px solid #bdeef3;border-right:1px solid #bdeef3;"><span class="n nb">51.0</span></div>
<div class="a" style="left:226px;top:183px;width:47px;height:40px;background:#cdf8fb;border-bottom:1px solid #bdeef3;"><span class="l">-</span></div>
<div class="a" style="left:0px;top:223px;width:37px;height:41px;background:#fdecd7;border-bottom:1px solid #dcebe2;border-right:1px solid #bdeef3;"><span class="d">20</span></div>
<div class="a" style="left:37px;top:223px;width:48px;height:21px;background:#f4f4e8;border-bottom:1px solid #bdeef3;border-right:1px solid #bdeef3;"><span class="n">-</span></div>
<div class="a" style="left:37px;top:244px;width:48px;height:20px;background:#eafcfc;border-bottom:1px solid #bdeef3;border-right:1px solid #bdeef3;"><span class="n nb">31.0</span></div>
<div class="a" style="left:85px;top:223px;width:49px;height:21px;background:#f4f4e8;border-bottom:1px solid #bdeef3;border-right:1px solid #bdeef3;"><span class="n">-</span></div>
<div class="a" style="left:85px;top:244px;width:49px;height:20px;background:#eafcfc;border-bottom:1px solid #bdeef3;border-right:1px solid #bdeef3;"><span class="n nb">23.0</span></div>
<div class="a" style="left:134px;top:223px;width:46px;height:21px;background:#f4f4e8;border-bottom:1px solid #bdeef3;border-right:1px solid #bdeef3;"><span class="n">-</span></div>
<div class="a" style="left:134px;top:244px;width:46px;height:20px;background:#eafcfc;border-bottom:1px solid #bdeef3;border-right:1px solid #bdeef3;"><span class="n nb">85.0</span></div>
<div class="a" style="left:180px;top:223px;width:46px;height:21px;background:#f4f4e8;border-bottom:1px solid #bdeef3;border-right:1px solid #bdeef3;"><span class="n">-</span></div>
<div class="a" style="left:180px;top:244px;width:46px;height:20px;background:#eafcfc;border-bottom:1px solid #bdeef3;border-right:1px solid #bdeef3;"><span class="n nb">57.0</span></div>
<div class="a" style="left:226px;top:223px;width:47px;height:41px;background:#cdf8fb;border-bottom:1px solid #bdeef3;"><span class="l">-</span></div>
<div class="a" style="left:0px;top:264px;width:37px;height:41px;background:#fdecd7;border-bottom:1px solid #dcebe2;border-right:1px solid #bdeef3;"><span class="d">21</span></div>
<div class="a" style="left:37px;top:264px;width:48px;height:20px;background:#ffffff;border-bottom:1px solid #bdeef3;border-right:1px solid #bdeef3;"><span class="n">25.0</span></div>
<div class="a" style="left:37px;top:284px;width:48px;height:21px;background:#eafcfc;border-bottom:1px solid #bdeef3;border-right:1px solid #bdeef3;"><span class="n nb">32.0</span></div>
<div class="a" style="left:85px;top:264px;width:49px;height:20px;background:#ffffff;border-bottom:1px solid #bdeef3;border-right:1px solid #bdeef3;"><span class="n">22.0</span></div>
<div class="a" style="left:85px;top:284px;width:49px;height:21px;background:#eafcfc;border-bottom:1px solid #bdeef3;border-right:1px solid #bdeef3;"><span class="n nb">23.0</span></div>
<div class="a" style="left:134px;top:264px;width:46px;height:20px;background:#ffffff;border-bottom:1px solid #bdeef3;border-right:1px solid #bdeef3;"><span class="n">85.0</span></div>
<div class="a" style="left:134px;top:284px;width:46px;height:21px;background:#eafcfc;border-bottom:1px solid #bdeef3;border-right:1px solid #bdeef3;"><span class="n nb">85.0</span></div>
<div class="a" style="left:180px;top:264px;width:46px;height:20px;background:#ffffff;border-bottom:1px solid #bdeef3;border-right:1px solid #bdeef3;"><span class="n">77.0</span></div>
<div class="a" style="left:180px;top:284px;width:46px;height:21px;background:#eafcfc;border-bottom:1px solid #bdeef3;border-right:1px solid #bdeef3;"><span class="n nb">55.0</span></div>
<div class="a" style="left:226px;top:264px;width:47px;height:41px;background:#cdf8fb;border-bottom:1px solid #bdeef3;"><span class="l">2</span></div>
<div class="a" style="left:0px;top:305px;width:37px;height:40px;background:#fdecd7;border-bottom:1px solid #dcebe2;border-right:1px solid #bdeef3;"><span class="d">22</span></div>
<div class="a" style="left:37px;top:305px;width:48px;height:20px;background:#f4f4e8;border-bottom:1px solid #bdeef3;border-right:1px solid #bdeef3;"><span class="n">29.0</span></div>
<div class="a" style="left:37px;top:325px;width:48px;height:20px;background:#eafcfc;border-bottom:1px solid #bdeef3;border-right:1px solid #bdeef3;"><span class="n nb">35.0</span></div>
<div class="a" style="left:85px;top:305px;width:49px;height:20px;background:#f4f4e8;border-bottom:1px solid #bdeef3;border-right:1px solid #bdeef3;"><span class="n">22.0</span></div>
<div class="a" style="left:85px;top:325px;width:49px;height:20px;background:#eafcfc;border-bottom:1px solid #bdeef3;border-right:1px solid #bdeef3;"><span class="n nb">23.0</span></div>
<div class="a" style="left:134px;top:305px;width:46px;height:20px;background:#f4f4e8;border-bottom:1px solid #bdeef3;border-right:1px solid #bdeef3;"><span class="n">86.0</span></div>
<div class="a" style="left:134px;top:325px;width:46px;height:20px;background:#eafcfc;border-bottom:1px solid #bdeef3;border-right:1px solid #bdeef3;"><span class="n nb">85.0</span></div>
<div class="a" style="left:180px;top:305px;width:46px;height:20px;background:#f4f4e8;border-bottom:1px solid #bdeef3;border-right:1px solid #bdeef3;"><span class="n">69.0</span></div>
<div class="a" style="left:180px;top:325px;width:46px;height:20px;background:#eafcfc;border-bottom:1px solid #bdeef3;border-right:1px solid #bdeef3;"><span class="n nb">45.0</span></div>
<div class="a" style="left:226px;top:305px;width:47px;height:40px;background:#cdf8fb;border-bottom:1px solid #bdeef3;"><span class="l">5</span></div>
<div class="a" style="left:0px;top:345px;width:37px;height:41px;background:#fdecd7;border-bottom:1px solid #dcebe2;border-right:1px solid #bdeef3;"><span class="d">23</span></div>
<div class="a" style="left:37px;top:345px;width:48px;height:21px;background:#ffffff;border-bottom:1px solid #bdeef3;border-right:1px solid #bdeef3;"><span class="n">25.0</span></div>
<div class="a" style="left:37px;top:366px;width:48px;height:20px;background:#eafcfc;border-bottom:1px solid #bdeef3;border-right:1px solid #bdeef3;"><span class="n nb">31.0</span></div>
<div class="a" style="left:85px;top:345px;width:49px;height:21px;background:#ffffff;border-bottom:1px solid #bdeef3;border-right:1px solid #bdeef3;"><span class="n">21.0</span></div>
<div class="a" style="left:85px;top:366px;width:49px;height:20px;background:#eafcfc;border-bottom:1px solid #bdeef3;border-right:1px solid #bdeef3;"><span class="n nb">24.0</span></div>
<div class="a" style="left:134px;top:345px;width:46px;height:21px;background:#ffffff;border-bottom:1px solid #bdeef3;border-right:1px solid #bdeef3;"><span class="n">92.0</span></div>
<div class="a" style="left:134px;top:366px;width:46px;height:20px;background:#eafcfc;border-bottom:1px solid #bdeef3;border-right:1px solid #bdeef3;"><span class="n nb">84.0</span></div>
<div class="a" style="left:180px;top:345px;width:46px;height:21px;background:#ffffff;border-bottom:1px solid #bdeef3;border-right:1px solid #bdeef3;"><span class="n">79.0</span></div>
<div class="a" style="left:180px;top:366px;width:46px;height:20px;background:#eafcfc;border-bottom:1px solid #bdeef3;border-right:1px solid #bdeef3;"><span class="n nb">64.0</span></div>
<div class="a" style="left:226px;top:345px;width:47px;height:41px;background:#cdf8fb;border-bottom:1px solid #bdeef3;"><span class="l">2</span></div>
<div class="a" style="left:0px;top:386px;width:37px;height:41px;background:#fdecd7;border-bottom:1px solid #dcebe2;border-right:1px solid #bdeef3;"><span class="d">24</span></div>
<div class="a" style="left:37px;top:386px;width:48px;height:21px;background:#f4f4e8;border-bottom:1px solid #bdeef3;border-right:1px solid #bdeef3;"><span class="n">25.0</span></div>
<div class="a" style="left:37px;top:407px;width:48px;height:20px;background:#eafcfc;border-bottom:1px solid #bdeef3;border-right:1px solid #bdeef3;"><span class="n nb">30.0</span></div>
<div class="a" style="left:85px;top:386px;width:49px;height:21px;background:#f4f4e8;border-bottom:1px solid #bdeef3;border-right:1px solid #bdeef3;"><span class="n">21.0</span></div>
<div class="a" style="left:85px;top:407px;width:49px;height:20px;background:#eafcfc;border-bottom:1px solid #bdeef3;border-right:1px solid #bdeef3;"><span class="n nb">23.0</span></div>
<div class="a" style="left:134px;top:386px;width:46px;height:21px;background:#f4f4e8;border-bottom:1px solid #bdeef3;border-right:1px solid #bdeef3;"><span class="n">84.0</span></div>
<div class="a" style="left:134px;top:407px;width:46px;height:20px;background:#eafcfc;border-bottom:1px solid #bdeef3;border-right:1px solid #bdeef3;"><span class="n nb">78.0</span></div>
<div class="a" style="left:180px;top:386px;width:46px;height:21px;background:#f4f4e8;border-bottom:1px solid #bdeef3;border-right:1px solid #bdeef3;"><span class="n">75.0</span></div>
<div class="a" style="left:180px;top:407px;width:46px;height:20px;background:#eafcfc;border-bottom:1px solid #bdeef3;border-right:1px solid #bdeef3;"><span class="n nb">61.0</span></div>
<div class="a" style="left:226px;top:386px;width:47px;height:41px;background:#cdf8fb;border-bottom:1px solid #bdeef3;"><span class="l">-</span></div>
<div class="a" style="left:0px;top:427px;width:37px;height:41px;background:#fdecd7;border-bottom:1px solid #dcebe2;border-right:1px solid #bdeef3;"><span class="d">25</span></div>
<div class="a" style="left:37px;top:427px;width:48px;height:20px;background:#ffffff;border-bottom:1px solid #bdeef3;border-right:1px solid #bdeef3;"><span class="n">25.0</span></div>
<div class="a" style="left:37px;top:447px;width:48px;height:21px;background:#eafcfc;border-bottom:1px solid #bdeef3;border-right:1px solid #bdeef3;"><span class="n nb">-</span></div>
<div class="a" style="left:85px;top:427px;width:49px;height:20px;background:#ffffff;border-bottom:1px solid #bdeef3;border-right:1px solid #bdeef3;"><span class="n">21.0</span></div>
<div class="a" style="left:85px;top:447px;width:49px;height:21px;background:#eafcfc;border-bottom:1px solid #bdeef3;border-right:1px solid #bdeef3;"><span class="n nb">-</span></div>
<div class="a" style="left:134px;top:427px;width:46px;height:20px;background:#ffffff;border-bottom:1px solid #bdeef3;border-right:1px solid #bdeef3;"><span class="n">87.0</span></div>
<div class="a" style="left:134px;top:447px;width:46px;height:21px;background:#eafcfc;border-bottom:1px solid #bdeef3;border-right:1px solid #bdeef3;"><span class="n nb">-</span></div>
<div class="a" style="left:180px;top:427px;width:46px;height:20px;background:#ffffff;border-bottom:1px solid #bdeef3;border-right:1px solid #bdeef3;"><span class="n">75.0</span></div>
<div class="a" style="left:180px;top:447px;width:46px;height:21px;background:#eafcfc;border-bottom:1px solid #bdeef3;border-right:1px solid #bdeef3;"><span class="n nb">-</span></div>
<div class="a" style="left:226px;top:427px;width:47px;height:41px;background:#cdf8fb;border-bottom:1px solid #bdeef3;"><span class="l">5</span></div>
<div class="a" style="left:0px;top:468px;width:37px;height:40px;background:#fdecd7;border-bottom:1px solid #dcebe2;border-right:1px solid #bdeef3;"><span class="d">26</span></div>
<div class="a" style="left:37px;top:468px;width:48px;height:20px;background:#f4f4e8;border-bottom:1px solid #bdeef3;border-right:1px solid #bdeef3;"><span class="n">32.0</span></div>
<div class="a" style="left:37px;top:488px;width:48px;height:20px;background:#eafcfc;border-bottom:1px solid #bdeef3;border-right:1px solid #bdeef3;"><span class="n nb">30.0</span></div>
<div class="a" style="left:85px;top:468px;width:49px;height:20px;background:#f4f4e8;border-bottom:1px solid #bdeef3;border-right:1px solid #bdeef3;"><span class="n">21.0</span></div>
<div class="a" style="left:85px;top:488px;width:49px;height:20px;background:#eafcfc;border-bottom:1px solid #bdeef3;border-right:1px solid #bdeef3;"><span class="n nb">24.0</span></div>
<div class="a" style="left:134px;top:468px;width:46px;height:20px;background:#f4f4e8;border-bottom:1px solid #bdeef3;border-right:1px solid #bdeef3;"><span class="n">88.0</span></div>
<div class="a" style="left:134px;top:488px;width:46px;height:20px;background:#eafcfc;border-bottom:1px solid #bdeef3;border-right:1px solid #bdeef3;"><span class="n nb">79.0</span></div>
<div class="a" style="left:180px;top:468px;width:46px;height:20px;background:#f4f4e8;border-bottom:1px solid #bdeef3;border-right:1px solid #bdeef3;"><span class="n">58.0</span></div>
<div class="a" style="left:180px;top:488px;width:46px;height:20px;background:#eafcfc;border-bottom:1px solid #bdeef3;border-right:1px solid #bdeef3;"><span class="n nb">59.0</span></div>
<div class="a" style="left:226px;top:468px;width:47px;height:40px;background:#cdf8fb;border-bottom:1px solid #bdeef3;"><span class="l">5</span></div>
<div class="a" style="left:0px;top:508px;width:37px;height:41px;background:#fdecd7;border-bottom:1px solid #dcebe2;border-right:1px solid #bdeef3;"><span class="d">27</span></div>
<div class="a" style="left:37px;top:508px;width:48px;height:21px;background:#ffffff;border-bottom:1px solid #bdeef3;border-right:1px solid #bdeef3;"><span class="n">26.0</span></div>
<div class="a" style="left:37px;top:529px;width:48px;height:20px;background:#eafcfc;border-bottom:1px solid #bdeef3;border-right:1px solid #bdeef3;"><span class="n nb">28.0</span></div>
<div class="a" style="left:85px;top:508px;width:49px;height:21px;background:#ffffff;border-bottom:1px solid #bdeef3;border-right:1px solid #bdeef3;"><span class="n">22.0</span></div>
<div class="a" style="left:85px;top:529px;width:49px;height:20px;background:#eafcfc;border-bottom:1px solid #bdeef3;border-right:1px solid #bdeef3;"><span class="n nb">23.0</span></div>
<div class="a" style="left:134px;top:508px;width:46px;height:21px;background:#ffffff;border-bottom:1px solid #bdeef3;border-right:1px solid #bdeef3;"><span class="n">87.0</span></div>
<div class="a" style="left:134px;top:529px;width:46px;height:20px;background:#eafcfc;border-bottom:1px solid #bdeef3;border-right:1px solid #bdeef3;"><span class="n nb">87.0</span></div>
<div class="a" style="left:180px;top:508px;width:46px;height:21px;background:#ffffff;border-bottom:1px solid #bdeef3;border-right:1px solid #bdeef3;"><span class="n">78.0</span></div>
<div class="a" style="left:180px;top:529px;width:46px;height:20px;background:#eafcfc;border-bottom:1px solid #bdeef3;border-right:1px solid #bdeef3;"><span class="n nb">69.0</span></div>
<div class="a" style="left:226px;top:508px;width:47px;height:41px;background:#cdf8fb;border-bottom:1px solid #bdeef3;"><span class="l">10</span></div>
<div class="a" style="left:0px;top:549px;width:37px;height:41px;background:#fdecd7;border-bottom:1px solid #dcebe2;border-right:1px solid #bdeef3;"><span class="d">28</span></div>
<div class="a" style="left:37px;top:549px;width:48px;height:20px;background:#f4f4e8;border-bottom:1px solid #bdeef3;border-right:1px solid #bdeef3;"><span class="n">26.0</span></div>
<div class="a" style="left:37px;top:569px;width:48px;height:21px;background:#eafcfc;border-bottom:1px solid #bdeef3;border-right:1px solid #bdeef3;"><span class="n nb">30.0</span></div>
<div class="a" style="left:85px;top:549px;width:49px;height:20px;background:#f4f4e8;border-bottom:1px solid #bdeef3;border-right:1px solid #bdeef3;"><span class="n">22.0</span></div>
<div class="a" style="left:85px;top:569px;width:49px;height:21px;background:#eafcfc;border-bottom:1px solid #bdeef3;border-right:1px solid #bdeef3;"><span class="n nb">23.0</span></div>
<div class="a" style="left:134px;top:549px;width:46px;height:20px;background:#f4f4e8;border-bottom:1px solid #bdeef3;border-right:1px solid #bdeef3;"><span class="n">87.0</span></div>
<div class="a" style="left:134px;top:569px;width:46px;height:21px;background:#eafcfc;border-bottom:1px solid #bdeef3;border-right:1px solid #bdeef3;"><span class="n nb">84.0</span></div>
<div class="a" style="left:180px;top:549px;width:46px;height:20px;background:#f4f4e8;border-bottom:1px solid #bdeef3;border-right:1px solid #bdeef3;"><span class="n">74.0</span></div>
<div class="a" style="left:180px;top:569px;width:46px;height:21px;background:#eafcfc;border-bottom:1px solid #bdeef3;border-right:1px solid #bdeef3;"><span class="n nb">69.0</span></div>
<div class="a" style="left:226px;top:549px;width:47px;height:41px;background:#cdf8fb;border-bottom:1px solid #bdeef3;"><span class="l">-</span></div>
<div class="a" style="left:0px;top:590px;width:37px;height:40px;background:#fdecd7;border-bottom:1px solid #dcebe2;border-right:1px solid #bdeef3;"><span class="d">29</span></div>
<div class="a" style="left:37px;top:590px;width:48px;height:20px;background:#ffffff;border-bottom:1px solid #bdeef3;border-right:1px solid #bdeef3;"><span class="n">26.0</span></div>
<div class="a" style="left:37px;top:610px;width:48px;height:20px;background:#eafcfc;border-bottom:1px solid #bdeef3;border-right:1px solid #bdeef3;"><span class="n nb">30.0</span></div>
<div class="a" style="left:85px;top:590px;width:49px;height:20px;background:#ffffff;border-bottom:1px solid #bdeef3;border-right:1px solid #bdeef3;"><span class="n">21.0</span></div>
<div class="a" style="left:85px;top:610px;width:49px;height:20px;background:#eafcfc;border-bottom:1px solid #bdeef3;border-right:1px solid #bdeef3;"><span class="n nb">25.0</span></div>
<div class="a" style="left:134px;top:590px;width:46px;height:20px;background:#ffffff;border-bottom:1px solid #bdeef3;border-right:1px solid #bdeef3;"><span class="n">86.0</span></div>
<div class="a" style="left:134px;top:610px;width:46px;height:20px;background:#eafcfc;border-bottom:1px solid #bdeef3;border-right:1px solid #bdeef3;"><span class="n nb">82.0</span></div>
<div class="a" style="left:180px;top:590px;width:46px;height:20px;background:#ffffff;border-bottom:1px solid #bdeef3;border-right:1px solid #bdeef3;"><span class="n">76.0</span></div>
<div class="a" style="left:180px;top:610px;width:46px;height:20px;background:#eafcfc;border-bottom:1px solid #bdeef3;border-right:1px solid #bdeef3;"><span class="n nb">63.0</span></div>
<div class="a" style="left:226px;top:590px;width:47px;height:40px;background:#cdf8fb;border-bottom:1px solid #bdeef3;"><span class="l">6</span></div>
<div class="a" style="left:0px;top:630px;width:37px;height:41px;background:#fdecd7;border-bottom:1px solid #dcebe2;border-right:1px solid #bdeef3;"><span class="d">30</span></div>
<div class="a" style="left:37px;top:630px;width:48px;height:21px;background:#f4f4e8;border-bottom:1px solid #bdeef3;border-right:1px solid #bdeef3;"><span class="n">26.0</span></div>
<div class="a" style="left:37px;top:651px;width:48px;height:20px;background:#eafcfc;border-bottom:1px solid #bdeef3;border-right:1px solid #bdeef3;"><span class="n nb">-</span></div>
<div class="a" style="left:85px;top:630px;width:49px;height:21px;background:#f4f4e8;border-bottom:1px solid #bdeef3;border-right:1px solid #bdeef3;"><span class="n">21.0</span></div>
<div class="a" style="left:85px;top:651px;width:49px;height:20px;background:#eafcfc;border-bottom:1px solid #bdeef3;border-right:1px solid #bdeef3;"><span class="n nb">-</span></div>
<div class="a" style="left:134px;top:630px;width:46px;height:21px;background:#f4f4e8;border-bottom:1px solid #bdeef3;border-right:1px solid #bdeef3;"><span class="n">86.0</span></div>
<div class="a" style="left:134px;top:651px;width:46px;height:20px;background:#eafcfc;border-bottom:1px solid #bdeef3;border-right:1px solid #bdeef3;"><span class="n nb">-</span></div>
<div class="a" style="left:180px;top:630px;width:46px;height:21px;background:#f4f4e8;border-bottom:1px solid #bdeef3;border-right:1px solid #bdeef3;"><span class="n">75.0</span></div>
<div class="a" style="left:180px;top:651px;width:46px;height:20px;background:#eafcfc;border-bottom:1px solid #bdeef3;border-right:1px solid #bdeef3;"><span class="n nb">-</span></div>
<div class="a" style="left:226px;top:630px;width:47px;height:41px;background:#cdf8fb;border-bottom:1px solid #bdeef3;"><span class="l">8</span></div>
<div class="a" style="left:0px;top:671px;width:37px;height:41px;background:#fdecd7;border-bottom:1px solid #dcebe2;border-right:1px solid #bdeef3;"><span class="d">31</span></div>
<div class="a" style="left:37px;top:671px;width:48px;height:20px;background:#ffffff;border-bottom:1px solid #bdeef3;border-right:1px solid #bdeef3;"><span class="n">34.0</span></div>
<div class="a" style="left:37px;top:691px;width:48px;height:21px;background:#eafcfc;border-bottom:1px solid #bdeef3;border-right:1px solid #bdeef3;"><span class="n nb">30.0</span></div>
<div class="a" style="left:85px;top:671px;width:49px;height:20px;background:#ffffff;border-bottom:1px solid #bdeef3;border-right:1px solid #bdeef3;"><span class="n">21.0</span></div>
<div class="a" style="left:85px;top:691px;width:49px;height:21px;background:#eafcfc;border-bottom:1px solid #bdeef3;border-right:1px solid #bdeef3;"><span class="n nb">23.0</span></div>
<div class="a" style="left:134px;top:671px;width:46px;height:20px;background:#ffffff;border-bottom:1px solid #bdeef3;border-right:1px solid #bdeef3;"><span class="n">86.0</span></div>
<div class="a" style="left:134px;top:691px;width:46px;height:21px;background:#eafcfc;border-bottom:1px solid #bdeef3;border-right:1px solid #bdeef3;"><span class="n nb">84.0</span></div>
<div class="a" style="left:180px;top:671px;width:46px;height:20px;background:#ffffff;border-bottom:1px solid #bdeef3;border-right:1px solid #bdeef3;"><span class="n">56.0</span></div>
<div class="a" style="left:180px;top:691px;width:46px;height:21px;background:#eafcfc;border-bottom:1px solid #bdeef3;border-right:1px solid #bdeef3;"><span class="n nb">59.0</span></div>
<div class="a" style="left:226px;top:671px;width:47px;height:41px;background:#cdf8fb;border-bottom:1px solid #bdeef3;"><span class="l">5</span></div>
</div>
<div id="sum"></div>
<div style="position:absolute;left:51.5px;top:1055px;font-size:14.6px;font-weight:bold;color:#3f6e26;line-height:20px">Resumen del Mes</div>
<div style="position:absolute;left:51px;top:1093.5px;width:237.5px;height:107.5px;border:2px solid #b3eef4;border-radius:6px;background:#fff;overflow:hidden"><div style="position:absolute;left:0;top:0;width:100%;height:37px;background:linear-gradient(90deg,#17b3c4,#1594a8)"></div><div style="position:absolute;left:12.5px;top:9.5px;font-size:13.5px;font-weight:bold;color:#fff;line-height:18px">Lluvia</div><div style="position:absolute;left:13px;top:50px;font-size:13px;color:#454545;line-height:17px">Total acumulado:</div><div style="position:absolute;right:14px;top:49px;font-size:13.5px;font-weight:bold;color:#1d7a8b;line-height:18px;letter-spacing:-0.9px">211.0 mm</div><div style="position:absolute;left:13px;top:73px;font-size:13px;color:#454545;line-height:17px">Días con lluvia:</div><div style="position:absolute;right:14px;top:72px;font-size:13.5px;font-weight:bold;color:#1d7a8b;line-height:18px;letter-spacing:-0.4px">12 días</div></div>
<div style="position:absolute;left:310px;top:1095px;width:286.5px;height:133.5px;border:2px solid #c6e3b4;border-radius:6px;background:#f9f9f0;overflow:hidden">
<div class="a" style="left:0px;top:0px;width:284px;height:43.5px;background:linear-gradient(90deg,#64a83b,#4c8b2c);"></div>
<div class="a" style="left:83.5px;top:0px;width:1px;height:43.5px;background:rgba(255,255,255,0.18);"></div>
<div class="a" style="left:189.5px;top:0px;width:1px;height:43.5px;background:rgba(255,255,255,0.18);"></div>
<div class="a" style="left:84px;top:0px;width:106px;height:43.5px;"><span class="gh">Temperatura<br>(°C)</span></div>
<div class="a" style="left:190px;top:0px;width:94px;height:43.5px;"><span class="gh">Humedad<br>(%)</span></div>
<div class="a" style="left:0px;top:43.5px;width:84px;height:29.3px;background:#e6f1dd;justify-content:flex-start;padding-left:8.2px;border-right:1px solid #d6e9cb;border-bottom:1px solid #d6e9cb;"><span class="gl">Máximo</span></div>
<div class="a" style="left:84px;top:43.5px;width:106px;height:29.3px;background:#fafaf1;border-right:1px solid #d6e9cb;border-bottom:1px solid #d6e9cb;"><span class="gv">35.0</span></div>
<div class="a" style="left:190px;top:43.5px;width:94px;height:29.3px;background:#fafaf1;border-bottom:1px solid #d6e9cb;"><span class="gv">92.0</span></div>
<div class="a" style="left:0px;top:72.8px;width:84px;height:29.2px;background:#e6f1dd;justify-content:flex-start;padding-left:8.2px;border-right:1px solid #d6e9cb;border-bottom:1px solid #d6e9cb;"><span class="gl">Mínimo</span></div>
<div class="a" style="left:84px;top:72.8px;width:106px;height:29.2px;background:#f0f6eb;border-right:1px solid #d6e9cb;border-bottom:1px solid #d6e9cb;"><span class="gv">20.0</span></div>
<div class="a" style="left:190px;top:72.8px;width:94px;height:29.2px;background:#f0f6eb;border-bottom:1px solid #d6e9cb;"><span class="gv">45.0</span></div>
<div class="a" style="left:0px;top:102px;width:84px;height:29px;background:#e6f1dd;justify-content:flex-start;padding-left:8.2px;border-right:1px solid #d6e9cb;"><span class="gl">Promedio</span></div>
<div class="a" style="left:84px;top:102px;width:106px;height:29px;background:#fafaf1;border-right:1px solid #d6e9cb;"><span class="gv">25.6</span></div>
<div class="a" style="left:190px;top:102px;width:94px;height:29px;background:#fafaf1;"><span class="gv">73.8</span></div>
</div>
<div style="position:absolute;left:442.5px;top:1246px;font-size:12.8px;color:#505050;line-height:17px">Powered by</div>
<svg style="position:absolute;left:530px;top:1240px" width="80" height="32" viewBox="0 0 80 32">
<polygon points="4.6,15 15.4,4.3 26.2,15 15.4,25.7" fill="#2f6f79"/>
<polygon points="12.1,15 23.5,4.3 34.9,15 23.5,25.7" fill="#3fc0c5"/>
<polygon points="11.2,15 19.5,7.0 27.9,15 19.5,23.0" fill="#6bcb92" stroke="#e9fbf4" stroke-width="1.3"/>
<path d="M19.5 10.2 C17.6 12.3 17.6 17.2 19.5 19.8 C21.4 17.2 21.4 12.3 19.5 10.2Z M19.5 12 L19.5 19" fill="#a5e6bd" stroke="#d8f6e4" stroke-width="0.6"/>
<text x="38.8" y="13.7" font-family="DejaVu Sans, sans-serif" font-weight="bold" font-size="9.8" fill="#1b2135" textLength="31.4" lengthAdjust="spacingAndGlyphs">MAKE</text>
<text x="39" y="24.5" font-family="DejaVu Sans, sans-serif" font-weight="200" font-size="12.4" fill="#2a3040" textLength="31.2" lengthAdjust="spacingAndGlyphs">SENS</text>
</svg>
<svg style="position:absolute;left:53px;top:55px" width="35" height="35" viewBox="0 0 35 35">
<g fill="none" stroke="#2a9aa8" stroke-width="1.3" stroke-linecap="round" stroke-linejoin="round">
<path d="M4.5 24.5 L10 19"/>
<path d="M8 21 C6 14 10 8 22.5 6 C24 10 23.5 13 22 16.5"/>
<path d="M8 21 C9.5 22 11 22.5 12.5 22"/>
<path d="M10 19 L18 10.5 M13 15.5 L12.6 12 M15.5 13 L18.5 13.2 M16.5 12 L16.2 9.5"/>
<rect x="13.5" y="17.2" width="13" height="9.8" rx="2"/>
</g>
<g fill="#2a9aa8"><rect x="16.5" y="22.5" width="1.2" height="2.2"/><rect x="19.3" y="20.8" width="1.2" height="3.9"/><rect x="22.1" y="22" width="1.2" height="2.7"/><rect x="16" y="24.3" width="8" height="0.9"/></g>
</svg>
<svg style="position:absolute;left:505px;top:48px" width="46" height="45" viewBox="0 0 46 45">
<g fill="#1b529e">
<path d="M32.4 3.2 C27.5 4 22 6.8 22 11.8 C22 15.6 24.8 17.9 28 17.7 C31 17.4 32.7 15 32.4 12.6 C32.1 10.5 30.6 9.2 31 7.1 C31.3 5.6 31.9 4.2 32.4 3.2 Z"/>
<path d="M7.1 19.7 C11.5 18.2 15.5 14.6 20.6 14.5 C18.6 17 18.3 21 20.2 24.4 C17.5 25 13.5 24.8 11 23.2 C9.5 22.2 8.2 21 7.1 19.7 Z"/>
<path d="M31.7 19.7 C34.5 20.5 36.6 23 36.9 26 C37.1 28 37 29.8 36.7 31.4 C34.8 28.6 32 27.2 29 26.6 C27.3 26.2 25.6 26 24.1 25.6 C27.5 24.6 30.6 22.6 31.7 19.7 Z"/>
</g>
<text x="4" y="40.6" font-family="DejaVu Sans, sans-serif" font-size="8.9" fill="#22507f" stroke="#22507f" stroke-width="0.35" textLength="36.2" lengthAdjust="spacing">ISAGEN</text>
</svg>
<svg style="position:absolute;left:548px;top:48px" width="58" height="46" viewBox="0 0 58 46">
<path fill="#1e3c45" d="M9.5 31 C6.2 28.2 4 24.8 4.1 21.3 C4.2 16.5 7.5 11.5 12 9.5 C14.5 8.3 17 7.8 19.7 7.8 L31 8.4 C33.2 8.6 34.8 8.4 36 7.4 C36.6 5.6 38.2 4.6 39.8 5 C41.4 5.5 41.9 7.6 40.8 8.8 L39 10 L37.2 12 C36 13.6 34.5 14.2 32.5 14 L25.2 13.4 L23.6 16.8 L20.8 16.8 L19.5 12.6 L18.2 11.8 C14 12.5 11 14.6 9.8 17.5 C8.6 20.5 8.3 24 8.7 27 C8.9 28.5 9.2 29.8 9.5 31 Z"/>
<path d="M41.5 6.5 C44 5.8 46.5 7 46.5 9.3 M42.5 12 C45 12.2 47 13.2 47.5 14.8" fill="none" stroke="#8fb3ba" stroke-width="0.5"/>
<text x="16.3" y="25.5" font-family="DejaVu Sans, sans-serif" font-size="5.2" fill="#2d4a52" textLength="33" lengthAdjust="spacingAndGlyphs">Fundación</text>
<text x="12.4" y="33.6" font-family="DejaVu Sans, sans-serif" font-weight="bold" font-size="8.6" fill="#1e3c45" textLength="36.2" lengthAdjust="spacingAndGlyphs">Natura</text>
<text x="18.6" y="40.5" font-family="DejaVu Sans, sans-serif" font-size="5.2" fill="#2d4a52" textLength="30.4" lengthAdjust="spacingAndGlyphs">Colombia</text>
</svg>
</body></html>
